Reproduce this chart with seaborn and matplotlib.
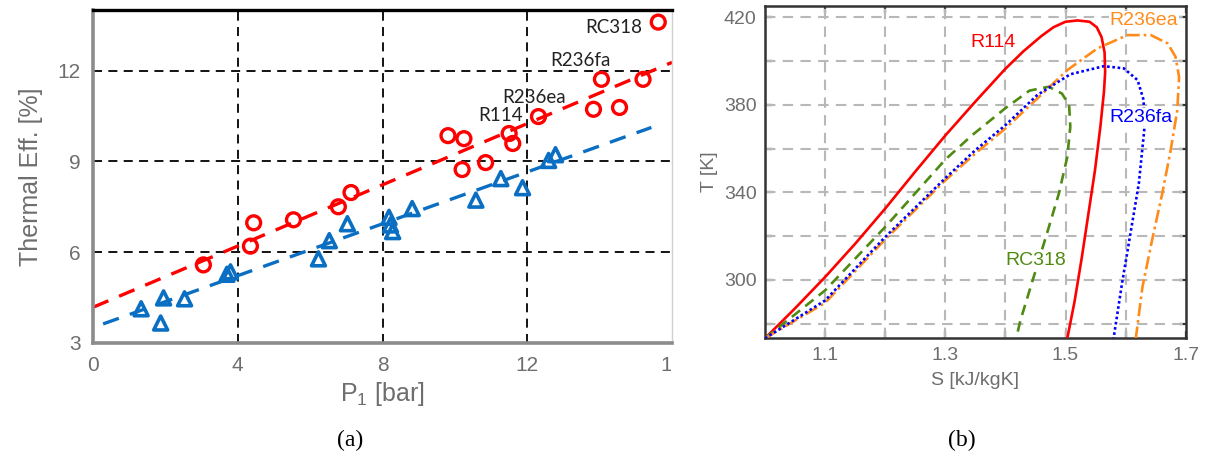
import numpy as np
import pandas as pd
import matplotlib
matplotlib.use("Agg")
import matplotlib.pyplot as plt
import seaborn as sns
from matplotlib.transforms import Bbox, TransformedBbox

# ---------------- data: panel (a) ----------------
circ_p = [15.62, 14.05, 15.2, 13.83, 14.55, 12.31, 11.5, 11.6, 9.81, 10.25,
          10.2, 10.85, 7.13, 6.78, 5.54, 4.44, 4.35, 3.05]
circ_eff = [13.6, 11.71, 11.71, 10.72, 10.78, 10.48, 9.92, 9.59, 9.85, 9.75,
            8.73, 8.96, 7.97, 7.5, 7.07, 6.97, 6.2, 5.58]
tri_p = [1.33, 1.87, 1.95, 2.53, 3.7, 3.8, 6.23, 6.53, 7.03, 8.18, 8.22, 8.28,
         8.82, 10.58, 11.27, 11.87, 12.59, 12.78]
tri_eff = [4.13, 3.66, 4.49, 4.46, 5.27, 5.35, 5.78, 6.38, 6.94, 7.15, 6.9, 6.68,
           7.44, 7.72, 8.43, 8.13, 9.03, 9.22]
red_fit_p = [0.0, 16.0]
red_fit_eff = [4.18, 12.27]
blue_fit_p = [0.28, 15.43]
blue_fit_eff = [3.63, 10.12]
fluid_names = ["RC318", "R236fa", "R236ea", "R114"]
fluid_label_p = [14.38, 13.47, 12.18, 11.27]
fluid_label_eff = [13.43, 12.34, 11.11, 10.52]
xticks_a = [0, 4, 8, 12, 16]
yticks_a = [3, 6, 9, 12]

# ---------------- data: panel (b) ----------------
r114_s = [1.0, 1.05, 1.1, 1.15, 1.2, 1.25, 1.3, 1.35, 1.4, 1.43, 1.46, 1.48, 1.5,
          1.52, 1.54, 1.552, 1.56, 1.565, 1.566, 1.564, 1.558, 1.549, 1.538, 1.527,
          1.515, 1.503]
r114_T = [273.3, 287.0, 301.3, 316.5, 332.6, 349.5, 366.0, 381.5, 396.5, 404.5,
          411.5, 415.5, 418.0, 418.6, 418.0, 415.5, 411.0, 404.0, 395.0, 386.0,
          370.0, 350.0, 330.0, 310.0, 290.0, 273.3]
rc318_s = [1.0, 1.1, 1.2, 1.3, 1.344, 1.4, 1.44, 1.472, 1.494, 1.506, 1.508, 1.503,
           1.489, 1.469, 1.447, 1.425, 1.418]
rc318_T = [273.3, 295.2, 324.2, 355.0, 366.0, 378.5, 386.5, 388.3, 385.2, 380.0,
           370.0, 356.2, 339.5, 321.1, 301.3, 281.5, 273.3]
r236fa_s = [1.0, 1.1, 1.2, 1.3, 1.35, 1.4, 1.453, 1.508, 1.564, 1.597, 1.62, 1.63,
            1.631, 1.622, 1.608, 1.594, 1.58]
r236fa_T = [273.3, 290.6, 319.6, 346.5, 359.3, 370.7, 384.5, 394.0, 397.7, 396.7,
            391.3, 382.2, 368.4, 344.0, 321.1, 298.3, 273.3]
r236ea_s = [1.0, 1.1, 1.2, 1.3, 1.35, 1.4, 1.453, 1.503, 1.553, 1.603, 1.642, 1.67,
            1.683, 1.689, 1.686, 1.675, 1.661, 1.644, 1.628, 1.617]
r236ea_T = [273.3, 289.5, 318.5, 345.5, 357.8, 369.2, 382.9, 395.9, 405.8, 411.9,
            411.9, 408.1, 402.0, 392.8, 377.6, 359.3, 339.5, 318.1, 296.7, 273.3]
curve_label_s = [1.38, 1.63, 1.625, 1.45]
curve_label_T = [408.7, 418.8, 374.4, 309.0]
curve_label_txt = ["R114", "R236ea", "R236fa", "RC318"]

# ---------------- styling ----------------
sns.set_theme(style="white")
plt.rcParams["font.family"] = ["Liberation Sans", "DejaVu Sans"]
plt.rcParams["mathtext.fontset"] = "custom"
plt.rcParams["mathtext.rm"] = "Liberation Sans"
plt.rcParams["mathtext.it"] = "Liberation Sans"

RED = "#ff0000"
BLUE_A = "#0a6fc2"
GRAY_TXT = "#6e6e6e"

fig = plt.figure(figsize=(12.07, 4.61), dpi=100)
fig.patch.set_facecolor("white")

# ---------------- panel (a) ----------------
ax1 = fig.add_axes([93 / 1207, 1 - 343 / 461, 579 / 1207, 333 / 461])
ax1.set_facecolor("white")

for v in [4, 8, 12]:
    ax1.axvline(v, color="black", lw=1.3, ls=(0, (5, 3.5)), zorder=1)
for v in [6, 9, 12]:
    ax1.axhline(v, color="black", lw=1.3, ls=(0, (5, 3.5)), zorder=1)

df_rf = pd.DataFrame({"p": red_fit_p, "eff": red_fit_eff})
df_bf = pd.DataFrame({"p": blue_fit_p, "eff": blue_fit_eff})
sns.lineplot(data=df_rf, x="p", y="eff", ax=ax1, color=RED, lw=2.4,
             estimator=None, sort=False, zorder=2)
sns.lineplot(data=df_bf, x="p", y="eff", ax=ax1, color=BLUE_A, lw=2.4,
             estimator=None, sort=False, zorder=2)
for ln in ax1.get_lines()[-2:]:
    ln.set_dashes((5, 3.5))

df_c = pd.DataFrame({"p": circ_p, "eff": circ_eff})
df_t = pd.DataFrame({"p": tri_p, "eff": tri_eff})
sns.scatterplot(data=df_c, x="p", y="eff", ax=ax1, marker="o", s=100,
                facecolor="none", edgecolor=RED, linewidth=2.4, zorder=3)
sns.scatterplot(data=df_t, x="p", y="eff", ax=ax1, marker="^", s=100,
                facecolor="none", edgecolor=BLUE_A, linewidth=2.6, zorder=3)

for name, px, py in zip(fluid_names, fluid_label_p, fluid_label_eff):
    ax1.text(px, py, name, ha="center", va="center", fontsize=13.5,
             family=["Lato", "DejaVu Sans"], color="#222222", zorder=4)

ax1.set_xlim(0, 16)
ax1.set_ylim(3, 14)
ax1.set_xticks(xticks_a)
ax1.set_yticks(yticks_a)
ax1.set_xticklabels([str(v) for v in xticks_a])
ax1.set_yticklabels([str(v) for v in yticks_a])
ax1.tick_params(axis="both", length=0, labelsize=15, labelcolor=GRAY_TXT, pad=9)
ax1.set_xlabel(r"P$_\mathregular{1}$ [bar]", fontsize=18, color=GRAY_TXT, labelpad=4)
ax1.set_ylabel("Thermal Eff. [%]", fontsize=18, color=GRAY_TXT, labelpad=10)

ax1.spines["left"].set_color("#8c8c8c")
ax1.spines["left"].set_linewidth(2.6)
ax1.spines["bottom"].set_color("#8c8c8c")
ax1.spines["bottom"].set_linewidth(2.6)
ax1.spines["top"].set_color("black")
ax1.spines["top"].set_linewidth(2.4)
ax1.spines["right"].set_color("#d0d0d0")
ax1.spines["right"].set_linewidth(1.0)

# clip the last x tick label at the panel's right edge
clip_bb = TransformedBbox(Bbox([[0, 0], [671 / 1207, 1]]), fig.transFigure)
last = ax1.get_xticklabels()[-1]
last.set_clip_on(True)
last.set_clip_box(clip_bb)

# ---------------- panel (b) ----------------
ax2 = fig.add_axes([765 / 1207, 1 - 338.3 / 461, 420.7 / 1207, 332.3 / 461])
ax2.set_facecolor("white")

xt_b = [1.1, 1.2, 1.3, 1.4, 1.5, 1.6, 1.7]
yt_b = [280, 300, 320, 340, 360, 380, 400, 420]
for v in xt_b[:-1]:
    ax2.axvline(v, color="#b8b8b8", lw=1.5, ls=(0, (5, 3.5)), zorder=1)
for v in yt_b:
    ax2.axhline(v, color="#b8b8b8", lw=1.5, ls=(0, (5, 3.5)), zorder=1)

curves = [
    (r114_s, r114_T, RED, "-", 1.9),
    (rc318_s, rc318_T, "#4f8a12", (0, (4, 2.5)), 1.9),
    (r236ea_s, r236ea_T, "#ff8c1a", (0, (5, 1.5, 1, 1.5)), 1.9),
    (r236fa_s, r236fa_T, "#0000ff", (0, (1, 1)), 1.9),
]
for s_arr, t_arr, col, ls, lw in curves:
    dfc = pd.DataFrame({"s": s_arr, "T": t_arr})
    sns.lineplot(data=dfc, x="s", y="T", ax=ax2, color=col, lw=lw,
                 estimator=None, sort=False, zorder=3)
    ax2.get_lines()[-1].set_linestyle(ls)

label_cols = [RED, "#ff8c1a", "#0000ff", "#4f8a12"]
for txt, sx, ty, col in zip(curve_label_txt, curve_label_s, curve_label_T, label_cols):
    bb = None if txt == "R114" else dict(facecolor="white", edgecolor="none", pad=0.5)
    ax2.text(sx, ty, txt, ha="center", va="center", fontsize=14, color=col,
             zorder=4, bbox=bb)

ax2.set_xlim(1.0, 1.7)
ax2.set_ylim(273.3, 425.2)
ax2.set_xticks(xt_b)
ax2.set_xticklabels(["1.1", "", "1.3", "", "1.5", "", "1.7"])
ax2.set_yticks(yt_b)
ax2.set_yticklabels(["", "300", "", "340", "", "380", "", "420"])
ax2.tick_params(axis="both", direction="in", length=5, width=1.6, color="#333333",
                labelsize=14, labelcolor=GRAY_TXT, top=True, right=True,
                bottom=True, left=True, pad=6)
ax2.set_xlabel("S [kJ/kgK]", fontsize=14, color=GRAY_TXT, labelpad=6)
ax2.set_ylabel("T [K]", fontsize=14, color=GRAY_TXT, labelpad=4)
for sp in ax2.spines.values():
    sp.set_color("#333333")
    sp.set_linewidth(1.8)

# ---------------- captions ----------------
fig.text(350 / 1207, 1 - 440 / 461, "(a)", ha="center", va="center", fontsize=17,
         family=["Liberation Serif", "DejaVu Serif"], color="black")
fig.text(962 / 1207, 1 - 440 / 461, "(b)", ha="center", va="center", fontsize=17,
         family=["Liberation Serif", "DejaVu Serif"], color="black")

fig.savefig("out.png", dpi=100, facecolor="white")
